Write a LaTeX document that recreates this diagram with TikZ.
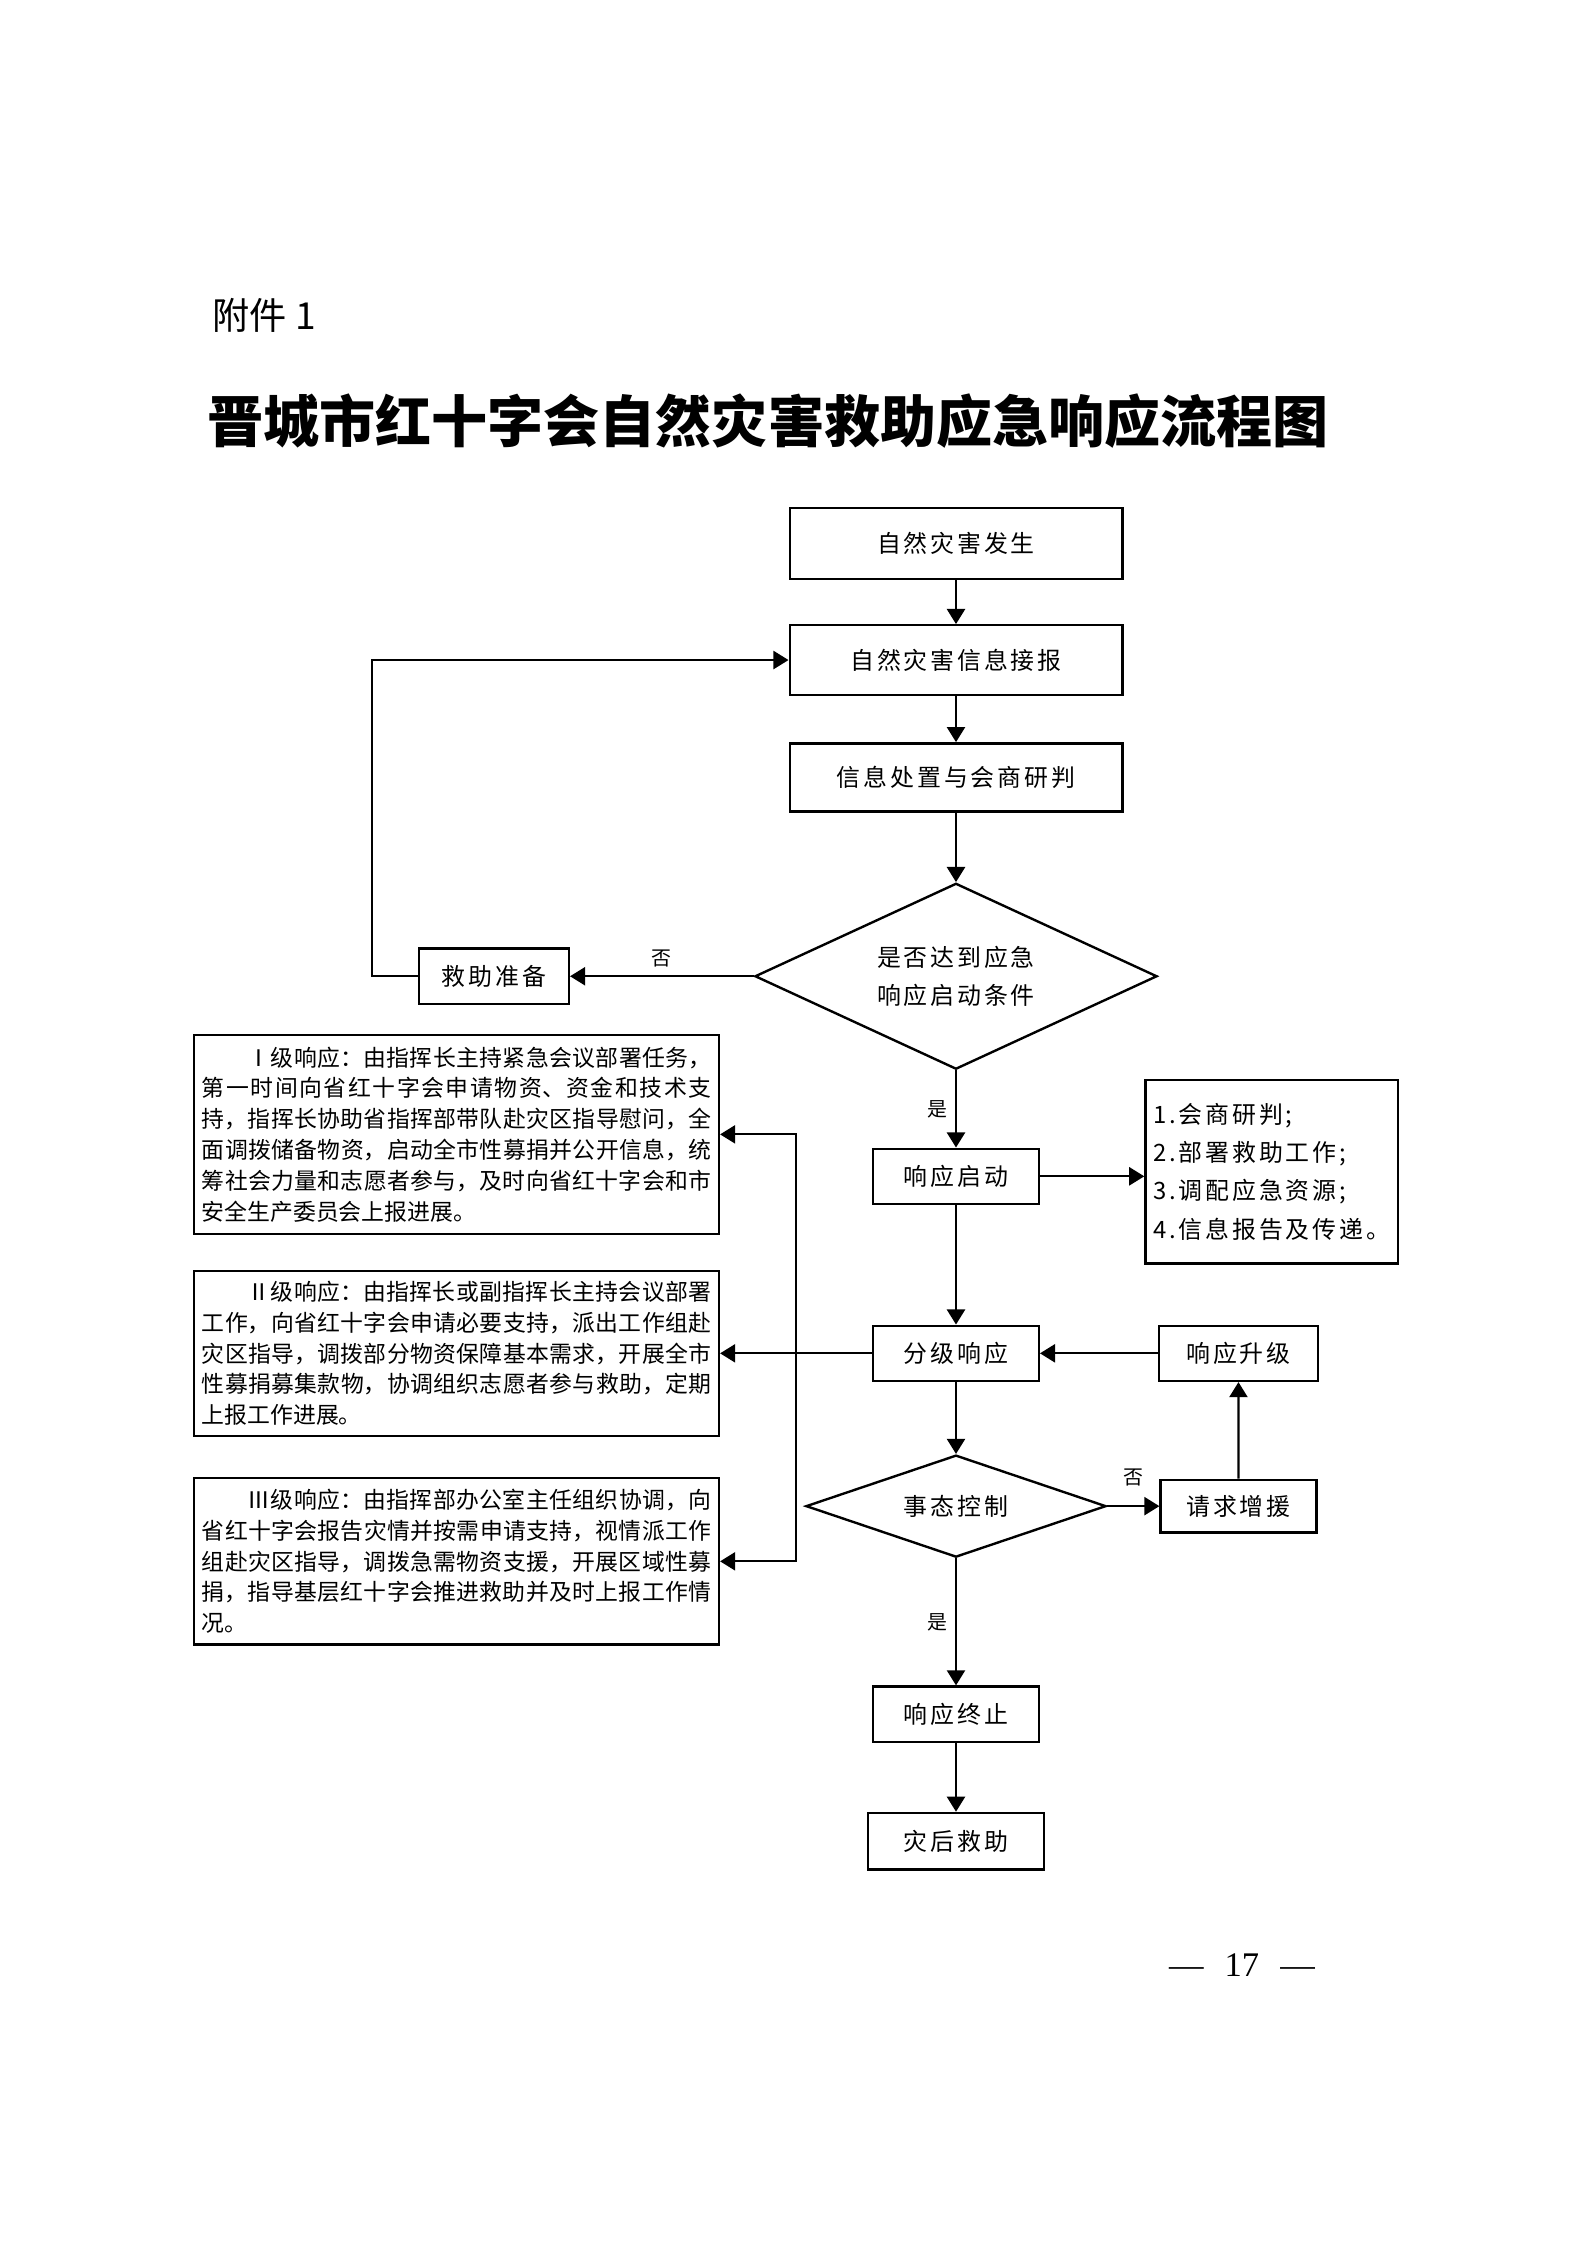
\documentclass[tikz,border=0pt]{standalone}
\usepackage{fontspec}
\newfontfamily\cjk{Noto Sans CJK SC}
\newfontfamily\cjkwide[LetterSpace=12]{Noto Sans CJK SC}
\newfontfamily\pagefont{Liberation Serif}
\usetikzlibrary{arrows.meta, positioning, quotes, shapes.geometric}
\XeTeXlinebreaklocale "zh"
\XeTeXlinebreakskip=0pt plus 1pt

\newcommand\boxfont{\cjkwide\fontsize{9pt}{14.4pt}\selectfont}
\newcommand\notefont{\cjk\fontsize{8.6pt}{11.6pt}\selectfont\XeTeXlinebreakskip=0pt plus 1.5pt\relax}
\newcommand\labelfont{\cjk\fontsize{7.5pt}{9pt}\selectfont}

\begin{document}
\begin{tikzpicture}[
        x=0.1323mm, y=0.1323mm,
        auto,
        base/.style = {draw, line width=0.9pt, align=center,
                       font=\boxfont, inner sep=1pt},
        block/.style = {base, minimum width=21.9mm, minimum height=7.3mm},
        wideblock/.style = {base, minimum width=44mm, minimum height=9.2mm},
        decision/.style = {base, diamond, aspect=2.5, inner sep=0pt},
        note/.style = {draw, line width=0.9pt, text width=67.4mm,
                       inner xsep=1mm, inner ysep=1pt, align=justify, font=\notefont},
        link/.style = {draw, line width=0.8pt, -{Triangle[length=2mm, width=2.4mm]}},
        every edge quotes/.style = {font=\labelfont, inner sep=3pt},
        highlabel/.style = {inner sep=7pt},
        ]
        \useasboundingbox (0,0) rectangle (1587,-2245);

        % heading
        \node [anchor=west, font=\cjk\fontsize{14pt}{16pt}\selectfont] (annex) at (203,-315) {附件 1};
        \node [font=\cjk\bfseries\fontsize{21.1pt}{24pt}\selectfont] (title) at (768,-421)
            {晋城市红十字会自然灾害救助应急响应流程图};

        % main column
        \node [wideblock, minimum height=9.4mm] (occur) at (956,-543.5) {自然灾害发生};
        \node [wideblock, below=5.8mm of occur] (report) {自然灾害信息接报};
        \node [wideblock, minimum height=9mm, below=6.1mm of report] (judge) {信息处置与会商研判};
        \node [decision, minimum width=53.2mm, minimum height=24.6mm,
               below=9.2mm of judge] (reach) {是否达到应急\\响应启动条件};
        \node [block, below=10.2mm of reach] (start) {响应启动};
        \node [block, below=15.8mm of start] (grade) {分级响应};
        \node [decision, minimum width=39.7mm, minimum height=13.5mm,
               below=9.5mm of grade] (control) {事态控制};
        \node [block, below=16.8mm of control] (stop) {响应终止};
        \node [block, minimum width=23.3mm, minimum height=7.5mm,
               below=9.1mm of stop] (after) {灾后救助};

        % side nodes
        \node [block, minimum width=19.8mm, left=24.3mm of reach] (prepare) {救助准备};
        \node [base, minimum width=33.4mm, minimum height=24.3mm, align=left,
               right=13.8mm of start, yshift=0.6mm] (tasks)
            {1.会商研判;\\2.部署救助工作;\\3.调配应急资源;\\4.信息报告及传递。};
        \node [block, minimum width=21mm, right=15.6mm of grade] (upgrade) {响应升级};
        \node [block, minimum width=20.6mm, minimum height=7mm,
               right=6.9mm of control] (reinforce) {请求增援};

        % response levels
        \node [note, minimum height=21.8mm, left=20.1mm of grade] (lvtwo)
            {\noindent\hspace*{2em}Ⅱ级响应：由指挥长或副指挥长主持会议部署\linebreak 工作，向省红十字会申请必要支持，派出工作组赴\linebreak 灾区指导，调拨部分物资保障基本需求，开展全市\linebreak 性募捐募集款物，协调组织志愿者参与救助，定期\linebreak 上报工作进展。};
        \node [note, minimum height=26.3mm, above=4.6mm of lvtwo] (lvone)
            {\noindent\hspace*{2em}Ⅰ级响应：由指挥长主持紧急会议部署任务，\linebreak 第一时间向省红十字会申请物资、资金和技术支\linebreak 持，指挥长协助省指挥部带队赴灾区指导慰问，全\linebreak 面调拨储备物资，启动全市性募捐并公开信息，统\linebreak 筹社会力量和志愿者参与，及时向省红十字会和市\linebreak 安全生产委员会上报进展。};
        \node [note, minimum height=22mm, below=5.3mm of lvtwo] (lvthree)
            {\noindent\hspace*{2em}Ⅲ级响应：由指挥部办公室主任组织协调，向\linebreak 省红十字会报告灾情并按需申请支持，视情派工作\linebreak 组赴灾区指导，调拨急需物资支援，开展区域性募\linebreak 捐，指导基层红十字会推进救助并及时上报工作情\linebreak 况。};

        \node [font=\pagefont\fontsize{13pt}{15pt}\selectfont] (page) at (1242,-1965)
            {—\hspace{2.8mm}17\hspace{2.8mm}—};

        \path
            (occur) edge [link] (report)
            (report) edge [link] (judge)
            (judge) edge [link] (reach)
            (reach) edge [link, "是"'] (start)
            (start) edge [link] (grade)
            (grade) edge [link] (control)
            (control) edge [link, "是"'] (stop)
            (stop) edge [link] (after)
            (reach) edge [link, "否"'] (prepare)
            (start.east) edge [link] (start.east -| tasks.west)
            (upgrade) edge [link] (grade)
            (reinforce) edge [link] (upgrade)
            (control) edge [link, "否" highlabel] (reinforce);
        \draw [link] (prepare.west) -- ++(-6.1mm,0) |- (report.west);

        % hand-out to the three levels
        \coordinate [left=10.1mm of grade.west] (split);
        \draw [link] (grade.west) -- (lvtwo.east);
        \draw [link] (split) |- (lvone.east);
        \draw [link] (split) |- (lvthree.east);
\end{tikzpicture}
\end{document}
